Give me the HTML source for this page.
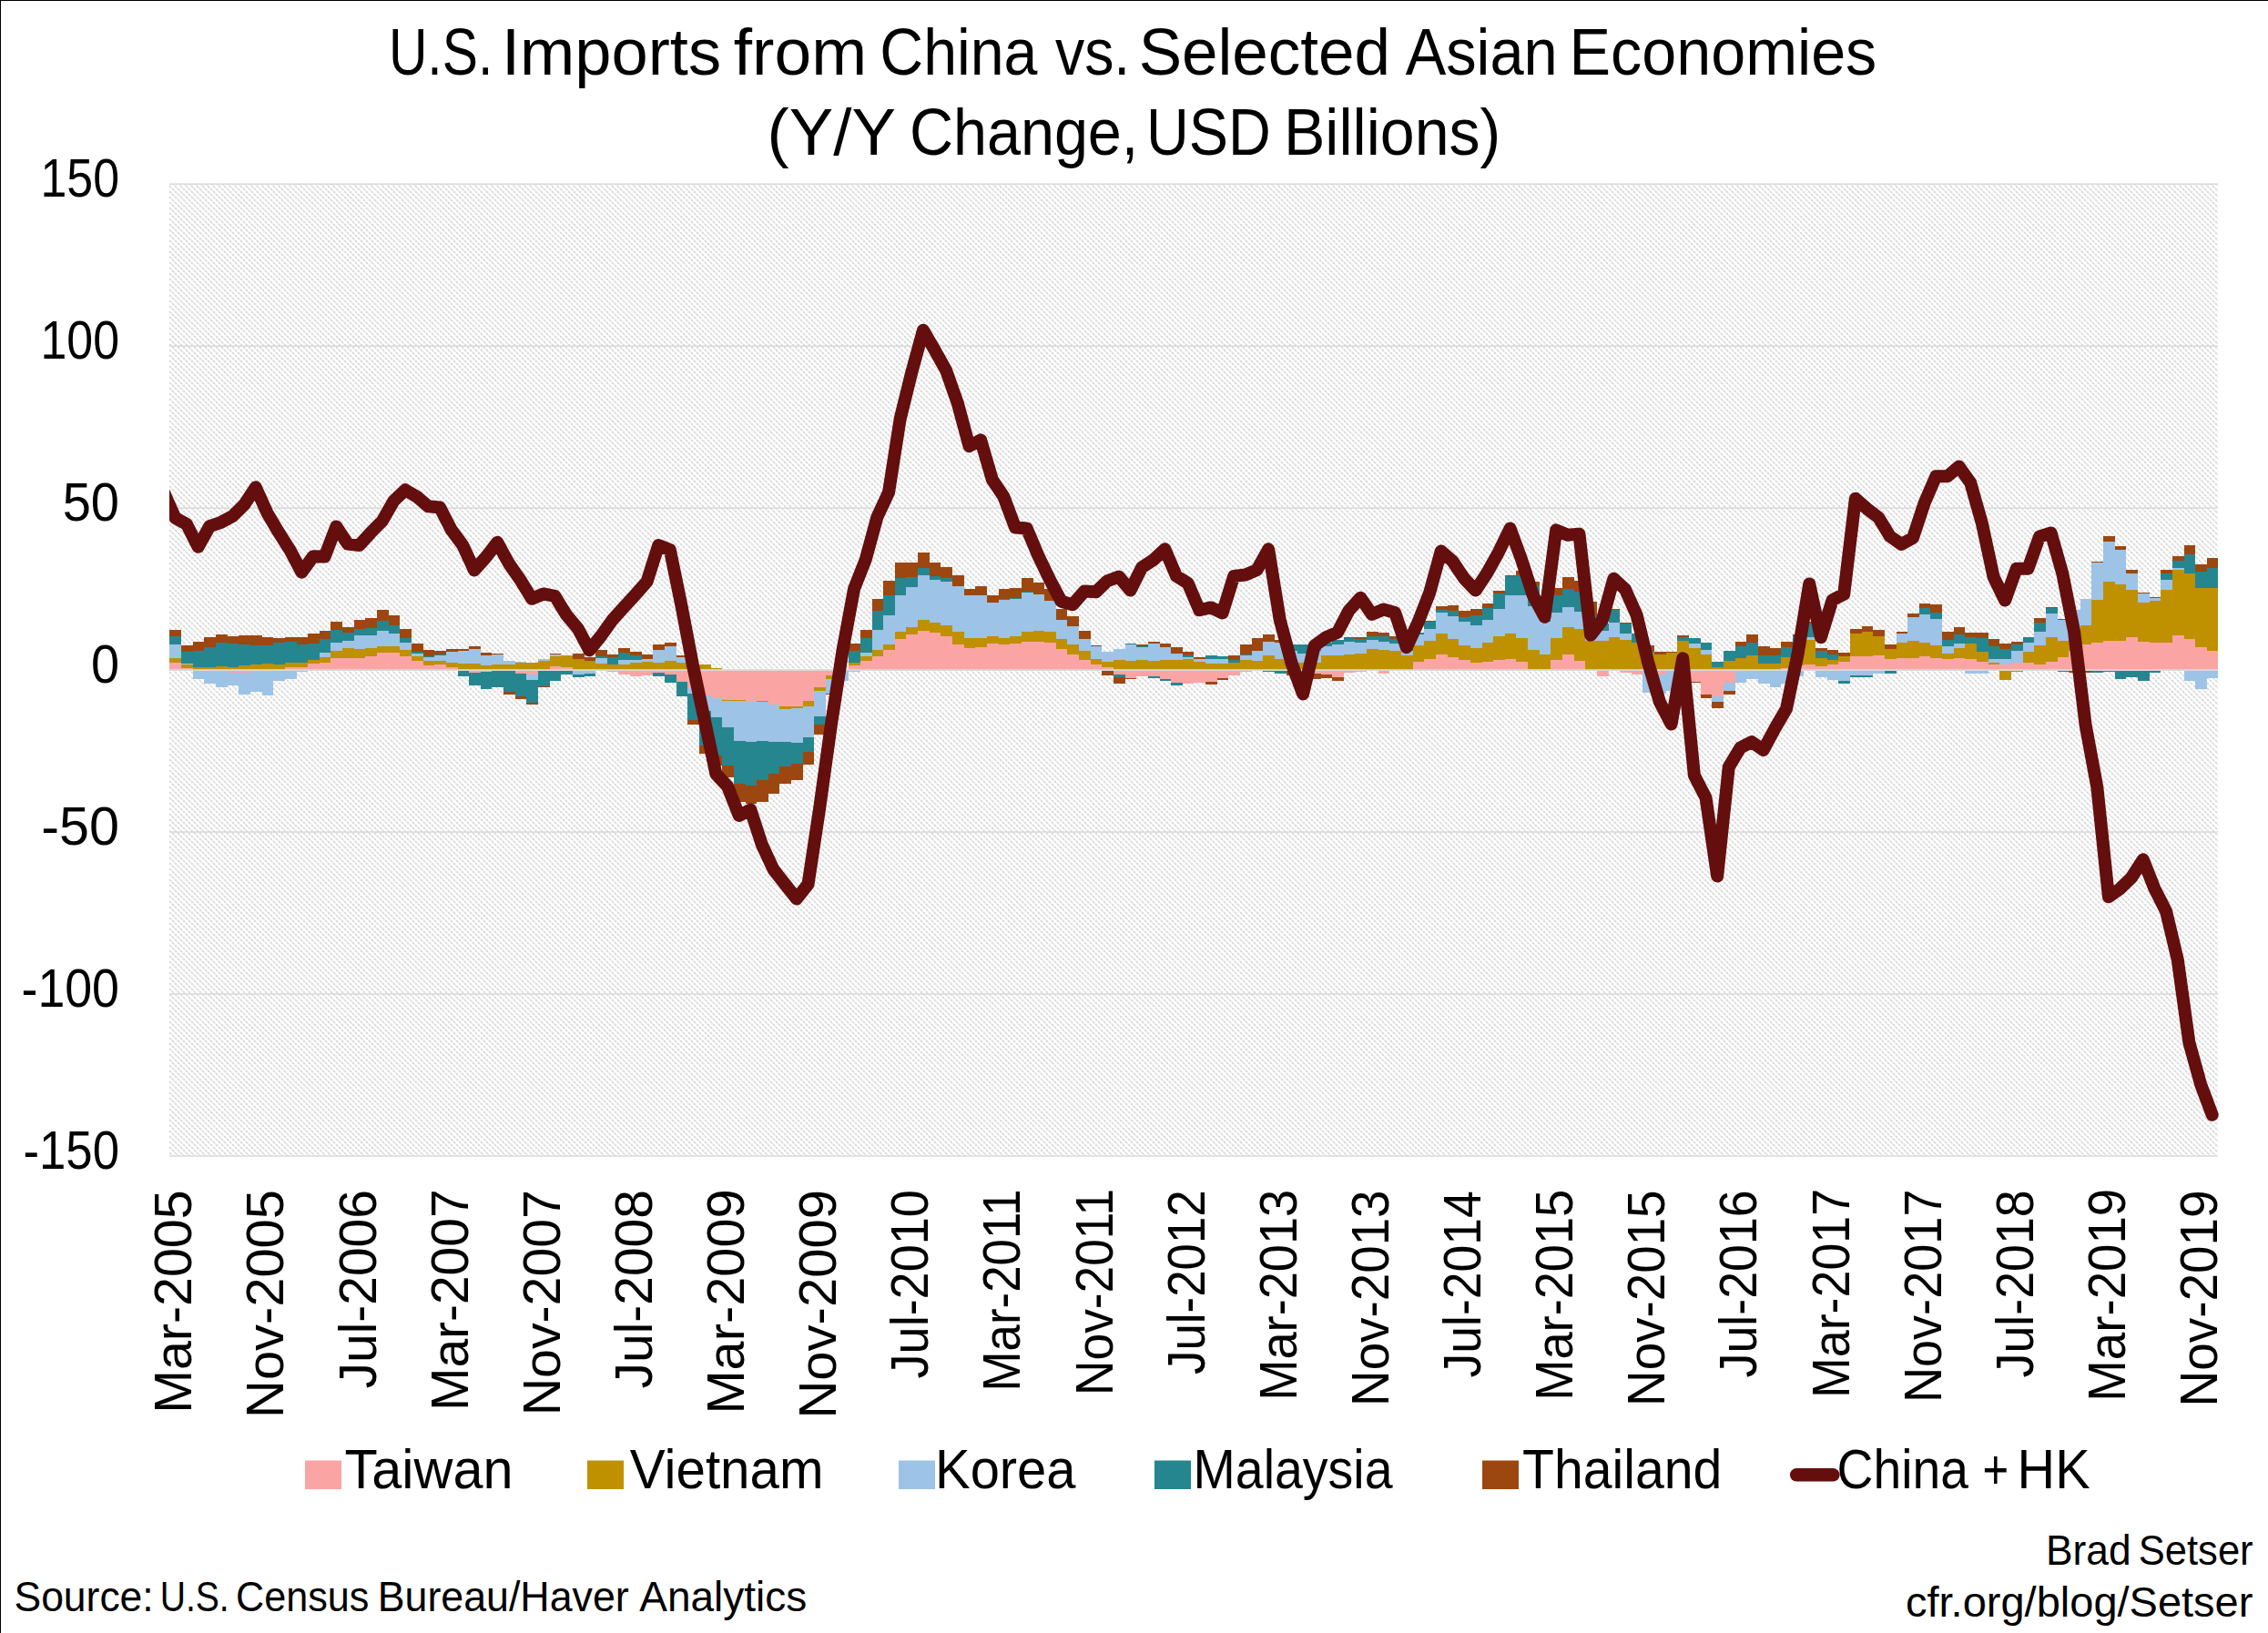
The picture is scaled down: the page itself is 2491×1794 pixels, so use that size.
<!DOCTYPE html>
<html><head><meta charset="utf-8"><title>U.S. Imports from China vs. Selected Asian Economies</title>
<style>
html,body{margin:0;padding:0;background:#fff;overflow:hidden;}
svg{display:block;}
text{font-family:"Liberation Sans", sans-serif;fill:#000;}
</style></head><body>
<svg width="2491" height="1794" viewBox="0 0 2491 1794">
<defs>
<pattern id="hatch" patternUnits="userSpaceOnUse" width="6" height="6">
<path d="M-1,-1 L7,7 M-1,5 L1,7 M5,-1 L7,1" stroke="#e0e0e0" stroke-width="1.1"/><rect x="0.25" y="0.25" width="1.5" height="1.5" fill="#d0d0d0"/><rect x="3.25" y="3.25" width="1.5" height="1.5" fill="#d0d0d0"/>
</pattern>
<clipPath id="plotclip"><rect x="186.0" y="0" width="2305.0" height="1794"/></clipPath>
</defs>
<rect x="0" y="0" width="2491" height="1794" fill="#fff"/>

<rect x="186.0" y="202.2" width="2250.0" height="1067.8" fill="url(#hatch)"/>
<rect x="186.0" y="201.45" width="2250.0" height="1.5" fill="#d9d9d9"/>
<rect x="186.0" y="379.42" width="2250.0" height="1.5" fill="#d9d9d9"/>
<rect x="186.0" y="557.38" width="2250.0" height="1.5" fill="#d9d9d9"/>
<rect x="186.0" y="913.32" width="2250.0" height="1.5" fill="#d9d9d9"/>
<rect x="186.0" y="1091.28" width="2250.0" height="1.5" fill="#d9d9d9"/>
<rect x="186.0" y="1269.25" width="2250.0" height="1.5" fill="#d9d9d9"/>
<path fill="#faa5a4" shape-rendering="crispEdges" d="M186,728H199V736H186ZM199,734H212V736H199ZM224,736H237V738H224ZM237,736H250V738H237ZM250,736H262V739H250ZM262,736H275V739H262ZM275,736H288V738H275ZM288,736H300V738H288ZM313,733H326V736H313ZM326,733H338V736H326ZM338,729H351V736H338ZM351,728H363V736H351ZM363,723H376V736H363ZM376,723H389V736H376ZM389,723H401V736H389ZM401,721H414V736H401ZM414,717H427V736H414ZM427,717H439V736H427ZM439,721H452V736H439ZM452,726H465V736H452ZM465,731H477V736H465ZM477,730H490V736H477ZM490,733H503V736H490ZM515,736H528V739H515ZM528,736H540V738H528ZM540,736H553V737H540ZM566,736H578V740H566ZM578,736H591V741H578ZM604,732H616V736H604ZM616,733H629V736H616ZM667,736H679V738H667ZM679,736H692V741H679ZM692,736H705V743H692ZM705,736H717V742H705ZM717,736H730V739H717ZM730,736H743V741H730ZM743,736H755V749H743ZM755,736H768V756H755ZM768,736H781V764H768ZM781,736H793V767H781ZM793,736H806V769H793ZM806,736H819V769H806ZM819,736H831V770H819ZM831,736H844V770H831ZM844,736H856V774H844ZM856,736H869V776H856ZM869,736H882V776H869ZM882,736H894V770H882ZM894,736H907V755H894ZM907,736H920V742H907ZM932,731H945V736H932ZM945,726H958V736H945ZM958,721H970V736H958ZM970,714H983V736H970ZM983,702H995V736H983ZM995,697H1008V736H995ZM1008,693H1021V736H1008ZM1021,695H1033V736H1021ZM1033,699H1046V736H1033ZM1046,708H1059V736H1046ZM1059,712H1071V736H1059ZM1071,711H1084V736H1071ZM1084,707H1097V736H1084ZM1097,708H1109V736H1097ZM1109,707H1122V736H1109ZM1122,705H1135V736H1122ZM1135,705H1147V736H1135ZM1147,706H1160V736H1147ZM1160,713H1172V736H1160ZM1172,719H1185V736H1172ZM1185,725H1198V736H1185ZM1198,730H1210V736H1198ZM1210,733H1223V736H1210ZM1223,736H1236V741H1223ZM1236,736H1248V745H1236ZM1248,736H1261V743H1248ZM1261,736H1274V743H1261ZM1274,736H1286V746H1274ZM1286,736H1299V750H1286ZM1299,736H1311V751H1299ZM1311,736H1324V750H1311ZM1324,736H1337V749H1324ZM1337,736H1349V745H1337ZM1349,736H1362V742H1349ZM1362,736H1375V738H1362ZM1387,736H1400V737H1387ZM1425,736H1438V738H1425ZM1438,736H1451V740H1438ZM1451,736H1463V741H1451ZM1463,736H1476V744H1463ZM1476,736H1488V739H1476ZM1488,736H1501V738H1488ZM1514,736H1526V740H1514ZM1552,727H1564V736H1552ZM1564,724H1577V736H1564ZM1577,719H1590V736H1577ZM1590,722H1602V736H1590ZM1602,725H1615V736H1602ZM1615,728H1628V736H1615ZM1628,727H1640V736H1628ZM1640,725H1653V736H1640ZM1653,724H1665V736H1653ZM1665,727H1678V736H1665ZM1678,735H1691V736H1678ZM1691,735H1703V736H1691ZM1703,725H1716V736H1703ZM1716,719H1729V736H1716ZM1729,726H1741V736H1729ZM1754,736H1767V743H1754ZM1779,736H1792V739H1779ZM1792,736H1804V741H1792ZM1817,736H1830V741H1817ZM1842,736H1855V749H1842ZM1855,736H1868V749H1855ZM1868,736H1880V763H1868ZM1880,736H1893V765H1880ZM1893,736H1906V750H1893ZM1906,736H1918V738H1906ZM1956,734H1969V736H1956ZM1969,731H1981V736H1969ZM1981,730H1994V736H1981ZM1994,732H2007V736H1994ZM2007,730H2019V736H2007ZM2019,727H2032V736H2019ZM2032,721H2045V736H2032ZM2045,721H2057V736H2045ZM2057,720H2070V736H2057ZM2070,724H2083V736H2070ZM2083,723H2095V736H2083ZM2095,723H2108V736H2095ZM2108,721H2120V736H2108ZM2120,723H2133V736H2120ZM2133,724H2146V736H2133ZM2146,723H2158V736H2146ZM2158,724H2171V736H2158ZM2171,727H2184V736H2171ZM2184,730H2196V736H2184ZM2196,730H2209V736H2196ZM2209,728H2222V736H2209ZM2222,728H2234V736H2222ZM2234,730H2247V736H2234ZM2247,727H2260V736H2247ZM2260,722H2272V736H2260ZM2272,715H2285V736H2272ZM2285,708H2297V736H2285ZM2297,706H2310V736H2297ZM2310,704H2323V736H2310ZM2323,704H2335V736H2323ZM2335,700H2348V736H2335ZM2348,705H2361V736H2348ZM2361,706H2373V736H2361ZM2373,706H2386V736H2373ZM2386,698H2399V736H2386ZM2399,702H2411V736H2399ZM2411,711H2424V736H2411ZM2424,715H2436V736H2424Z"/>
<path fill="#bf9000" shape-rendering="crispEdges" d="M186,723H199V728H186ZM199,730H212V734H199ZM212,733H224V736H212ZM224,733H237V736H224ZM237,732H250V736H237ZM250,733H262V736H250ZM262,731H275V736H262ZM275,730H288V736H275ZM288,729H300V736H288ZM300,730H313V736H300ZM313,728H326V733H313ZM326,728H338V733H326ZM338,725H351V729H338ZM351,722H363V728H351ZM363,715H376V723H363ZM376,712H389V723H376ZM389,713H401V723H389ZM401,712H414V721H401ZM414,710H427V717H414ZM427,710H439V717H427ZM439,714H452V721H439ZM452,721H465V726H452ZM465,726H477V731H465ZM477,726H490V730H477ZM490,728H503V733H490ZM503,729H515V736H503ZM515,729H528V736H515ZM528,731H540V736H528ZM540,730H553V736H540ZM553,730H566V736H553ZM566,728H578V736H566ZM578,728H591V736H578ZM591,726H604V736H591ZM604,721H616V732H604ZM616,720H629V733H616ZM629,724H642V736H629ZM642,726H654V736H642ZM654,729H667V736H654ZM667,730H679V736H667ZM679,730H692V736H679ZM692,728H705V736H692ZM705,727H717V736H705ZM717,728H730V736H717ZM730,726H743V736H730ZM743,728H755V736H743ZM755,731H768V736H755ZM768,730H781V736H768ZM781,734H793V736H781ZM793,769H806V770H793ZM806,769H819V770H806ZM831,770H844V771H831ZM856,776H869V779H856ZM869,776H882V778H869ZM882,770H894V776H882ZM894,755H907V759H894ZM907,742H920V746H907ZM932,728H945V731H932ZM945,721H958V726H945ZM958,714H970V721H958ZM970,708H983V714H970ZM983,694H995V702H983ZM995,689H1008V697H995ZM1008,681H1021V693H1008ZM1021,684H1033V695H1021ZM1033,687H1046V699H1033ZM1046,694H1059V708H1046ZM1059,701H1071V712H1059ZM1071,701H1084V711H1071ZM1084,699H1097V707H1084ZM1097,701H1109V708H1097ZM1109,699H1122V707H1109ZM1122,694H1135V705H1122ZM1135,693H1147V705H1135ZM1147,694H1160V706H1147ZM1160,702H1172V713H1160ZM1172,708H1185V719H1172ZM1185,715H1198V725H1185ZM1198,724H1210V730H1198ZM1210,727H1223V733H1210ZM1223,725H1236V736H1223ZM1236,726H1248V736H1236ZM1248,725H1261V736H1248ZM1261,726H1274V736H1261ZM1274,725H1286V736H1274ZM1286,725H1299V736H1286ZM1299,724H1311V736H1299ZM1311,727H1324V736H1311ZM1324,729H1337V736H1324ZM1337,729H1349V736H1337ZM1349,728H1362V736H1349ZM1362,725H1375V736H1362ZM1375,726H1387V736H1375ZM1387,720H1400V736H1387ZM1400,724H1413V736H1400ZM1413,724H1425V736H1413ZM1425,728H1438V736H1425ZM1438,728H1451V736H1438ZM1451,720H1463V736H1451ZM1463,720H1476V736H1463ZM1476,719H1488V736H1476ZM1488,718H1501V736H1488ZM1501,713H1514V736H1501ZM1514,714H1526V736H1514ZM1526,715H1539V736H1526ZM1539,720H1552V736H1539ZM1552,709H1564V727H1552ZM1564,704H1577V724H1564ZM1577,696H1590V719H1577ZM1590,702H1602V722H1590ZM1602,709H1615V725H1602ZM1615,712H1628V728H1615ZM1628,706H1640V727H1628ZM1640,699H1653V725H1640ZM1653,696H1665V724H1653ZM1665,701H1678V727H1665ZM1678,714H1691V735H1678ZM1691,719H1703V735H1691ZM1703,701H1716V725H1703ZM1716,689H1729V719H1716ZM1729,691H1741V726H1729ZM1741,704H1754V736H1741ZM1754,704H1767V736H1754ZM1767,700H1779V736H1767ZM1779,703H1792V736H1779ZM1792,706H1804V736H1792ZM1804,717H1817V736H1804ZM1817,719H1830V736H1817ZM1830,717H1842V736H1830ZM1842,704H1855V736H1842ZM1855,712H1868V736H1855ZM1868,719H1880V736H1868ZM1880,733H1893V736H1880ZM1893,726H1906V736H1893ZM1906,723H1918V736H1906ZM1918,720H1931V736H1918ZM1931,729H1944V736H1931ZM1944,729H1956V736H1944ZM1956,722H1969V734H1956ZM1969,709H1981V731H1969ZM1981,703H1994V730H1981ZM1994,723H2007V732H1994ZM2007,725H2019V730H2007ZM2019,721H2032V727H2019ZM2032,696H2045V721H2032ZM2045,694H2057V721H2045ZM2057,699H2070V720H2057ZM2070,713H2083V724H2070ZM2083,706H2095V723H2083ZM2095,704H2108V723H2095ZM2108,706H2120V721H2108ZM2120,709H2133V723H2120ZM2133,718H2146V724H2133ZM2146,712H2158V723H2146ZM2158,707H2171V724H2158ZM2171,716H2184V727H2171ZM2184,728H2196V730H2184ZM2196,736H2209V747H2196ZM2209,736H2222V738H2209ZM2222,716H2234V728H2222ZM2234,709H2247V730H2234ZM2247,700H2260V727H2247ZM2260,704H2272V722H2260ZM2272,695H2285V715H2272ZM2285,687H2297V708H2285ZM2297,659H2310V706H2297ZM2310,639H2323V704H2310ZM2323,642H2335V704H2323ZM2335,648H2348V700H2335ZM2348,662H2361V705H2348ZM2361,660H2373V706H2361ZM2373,648H2386V706H2373ZM2386,626H2399V698H2386ZM2399,630H2411V702H2399ZM2411,646H2424V711H2411ZM2424,646H2436V715H2424Z"/>
<path fill="#9dc3e6" shape-rendering="crispEdges" d="M186,708H199V723H186ZM199,729H212V730H199ZM212,736H224V746H212ZM224,738H237V751H224ZM237,738H250V755H237ZM250,739H262V753H250ZM262,739H275V763H262ZM275,738H288V760H275ZM288,738H300V764H288ZM300,736H313V748H300ZM313,736H326V746H313ZM326,736H338V738H326ZM351,717H363V722H351ZM363,706H376V715H363ZM376,704H389V712H376ZM389,698H401V713H389ZM401,698H414V712H401ZM414,693H427V710H414ZM427,696H439V710H427ZM439,706H452V714H439ZM452,718H465V721H452ZM465,722H477V726H465ZM477,720H490V726H477ZM490,716H503V728H490ZM503,715H515V729H503ZM515,713H528V729H515ZM528,720H540V731H528ZM540,719H553V730H540ZM553,726H566V730H553ZM566,727H578V728H566ZM578,741H591V747H578ZM591,724H604V726H591ZM604,719H616V721H604ZM629,736H642V741H629ZM642,736H654V740H642ZM654,723H667V729H654ZM679,725H692V730H679ZM692,725H705V728H692ZM705,724H717V727H705ZM717,714H730V728H717ZM730,710H743V726H730ZM743,722H755V728H743ZM755,756H768V762H755ZM768,764H781V781H768ZM781,767H793V788H781ZM793,770H806V799H793ZM806,770H819V814H806ZM819,770H831V815H819ZM831,771H844V814H831ZM844,774H856V815H844ZM856,779H869V815H856ZM869,778H882V816H869ZM882,776H894V810H882ZM894,759H907V787H894ZM907,746H920V762H907ZM920,736H932V748H920ZM932,736H945V738H932ZM945,717H958V721H945ZM958,692H970V714H958ZM970,676H983V708H970ZM983,654H995V694H983ZM995,645H1008V689H995ZM1008,632H1021V681H1008ZM1021,637H1033V684H1021ZM1033,639H1046V687H1033ZM1046,644H1059V694H1046ZM1059,654H1071V701H1059ZM1071,654H1084V701H1071ZM1084,662H1097V699H1084ZM1097,659H1109V701H1097ZM1109,658H1122V699H1109ZM1122,651H1135V694H1122ZM1135,653H1147V693H1135ZM1147,660H1160V694H1147ZM1160,681H1172V702H1160ZM1172,688H1185V708H1172ZM1185,702H1198V715H1185ZM1198,710H1210V724H1198ZM1210,716H1223V727H1210ZM1223,713H1236V725H1223ZM1236,708H1248V726H1236ZM1248,711H1261V725H1248ZM1261,707H1274V726H1261ZM1274,711H1286V725H1274ZM1286,718H1299V725H1286ZM1299,722H1311V724H1299ZM1311,724H1324V727H1311ZM1324,724H1337V729H1324ZM1337,724H1349V729H1337ZM1362,720H1375V725H1362ZM1375,715H1387V726H1375ZM1387,705H1400V720H1387ZM1400,706H1413V724H1400ZM1413,715H1425V724H1413ZM1425,718H1438V728H1425ZM1438,715H1451V728H1438ZM1451,710H1463V720H1451ZM1463,708H1476V720H1463ZM1476,705H1488V719H1476ZM1488,706H1501V718H1488ZM1501,703H1514V713H1501ZM1514,705H1526V714H1514ZM1526,707H1539V715H1526ZM1539,715H1552V720H1539ZM1552,697H1564V709H1552ZM1564,691H1577V704H1564ZM1577,673H1590V696H1577ZM1590,677H1602V702H1590ZM1602,683H1615V709H1602ZM1615,687H1628V712H1615ZM1628,681H1640V706H1628ZM1640,669H1653V699H1640ZM1653,654H1665V696H1653ZM1665,654H1678V701H1665ZM1678,666H1691V714H1678ZM1691,683H1703V719H1691ZM1703,673H1716V701H1703ZM1716,667H1729V689H1716ZM1729,672H1741V691H1729ZM1741,689H1754V704H1741ZM1754,693H1767V704H1754ZM1767,684H1779V700H1767ZM1779,696H1792V703H1779ZM1804,736H1817V761H1804ZM1817,741H1830V762H1817ZM1830,736H1842V759H1830ZM1855,707H1868V712H1855ZM1868,714H1880V719H1868ZM1880,765H1893V771H1880ZM1893,750H1906V759H1893ZM1906,738H1918V750H1906ZM1918,736H1931V746H1918ZM1931,736H1944V751H1931ZM1944,736H1956V755H1944ZM1956,736H1969V751H1956ZM1969,736H1981V743H1969ZM1981,700H1994V703H1981ZM1994,736H2007V744H1994ZM2007,736H2019V747H2007ZM2019,736H2032V748H2019ZM2032,736H2045V742H2032ZM2045,736H2057V742H2045ZM2057,736H2070V740H2057ZM2083,696H2095V706H2083ZM2095,678H2108V704H2095ZM2108,675H2120V706H2108ZM2120,680H2133V709H2120ZM2133,710H2146V718H2133ZM2146,707H2158V712H2146ZM2158,736H2171V740H2158ZM2171,736H2184V740H2171ZM2184,724H2196V728H2184ZM2196,724H2209V730H2196ZM2209,715H2222V728H2209ZM2222,706H2234V716H2222ZM2234,694H2247V709H2234ZM2247,674H2260V700H2247ZM2260,681H2272V704H2260ZM2272,670H2285V695H2272ZM2285,658H2297V687H2285ZM2297,618H2310V659H2297ZM2310,595H2323V639H2310ZM2323,604H2335V642H2323ZM2335,630H2348V648H2335ZM2348,652H2361V662H2348ZM2361,657H2373V660H2361ZM2373,637H2386V648H2373ZM2386,624H2399V626H2386ZM2399,736H2411V748H2399ZM2411,736H2424V757H2411ZM2424,736H2436V745H2424Z"/>
<path fill="#258690" shape-rendering="crispEdges" d="M186,699H199V708H186ZM199,716H212V729H199ZM212,715H224V733H212ZM224,711H237V733H224ZM237,706H250V732H237ZM250,707H262V733H250ZM262,708H275V731H262ZM275,709H288V730H275ZM288,709H300V729H288ZM300,706H313V730H300ZM313,705H326V728H313ZM326,708H338V728H326ZM338,707H351V725H338ZM351,702H363V717H351ZM363,692H376V706H363ZM376,695H389V704H376ZM389,691H401V698H389ZM401,690H414V698H401ZM414,682H427V693H414ZM427,687H439V696H427ZM439,701H452V706H439ZM452,716H465V718H452ZM465,721H477V722H465ZM477,719H490V720H477ZM503,736H515V743H503ZM515,739H528V753H515ZM528,738H540V757H528ZM540,737H553V755H540ZM553,736H566V760H553ZM566,740H578V765H566ZM578,747H591V772H578ZM591,736H604V754H591ZM604,736H616V748H604ZM616,736H629V741H616ZM629,741H642V744H629ZM642,740H654V743H642ZM654,721H667V723H654ZM667,722H679V730H667ZM679,717H692V725H679ZM692,720H705V725H692ZM717,739H730V743H717ZM730,741H743V750H730ZM743,749H755V765H743ZM755,762H768V791H755ZM768,781H781V819H768ZM781,788H793V830H781ZM793,799H806V841H793ZM806,814H819V861H806ZM819,815H831V863H819ZM831,814H844V857H831ZM844,815H856V850H844ZM856,815H869V842H856ZM869,816H882V839H869ZM882,810H894V826H882ZM894,787H907V796H894ZM932,715H945V728H932ZM945,701H958V717H945ZM958,671H970V692H958ZM970,654H983V676H970ZM983,635H995V654H983ZM995,634H1008V645H995ZM1008,624H1021V632H1008ZM1021,633H1033V637H1021ZM1033,635H1046V639H1033ZM1097,658H1109V659H1097ZM1109,657H1122V658H1109ZM1122,650H1135V651H1122ZM1172,736H1185V737H1172ZM1223,741H1236V744H1223ZM1236,707H1248V708H1236ZM1248,710H1261V711H1248ZM1261,743H1274V745H1261ZM1274,746H1286V748H1274ZM1286,750H1299V753H1286ZM1299,720H1311V722H1299ZM1324,720H1337V724H1324ZM1337,721H1349V724H1337ZM1349,725H1362V728H1349ZM1362,719H1375V720H1362ZM1387,737H1400V738H1387ZM1400,736H1413V740H1400ZM1413,708H1425V715H1413ZM1425,708H1438V718H1425ZM1438,708H1451V715H1438ZM1451,706H1463V710H1451ZM1463,703H1476V708H1463ZM1476,701H1488V705H1476ZM1488,702H1501V706H1488ZM1501,699H1514V703H1501ZM1514,699H1526V705H1514ZM1526,702H1539V707H1526ZM1539,711H1552V715H1539ZM1552,695H1564V697H1552ZM1564,683H1577V691H1564ZM1577,670H1590V673H1577ZM1590,671H1602V677H1590ZM1602,678H1615V683H1602ZM1615,676H1628V687H1615ZM1628,668H1640V681H1628ZM1640,652H1653V669H1640ZM1653,633H1665V654H1653ZM1665,632H1678V654H1665ZM1678,643H1691V666H1678ZM1691,681H1703V683H1691ZM1703,654H1716V673H1703ZM1716,647H1729V667H1716ZM1729,650H1741V672H1729ZM1741,676H1754V689H1741ZM1754,685H1767V693H1754ZM1767,670H1779V684H1767ZM1779,685H1792V696H1779ZM1792,696H1804V706H1792ZM1804,715H1817V717H1804ZM1842,700H1855V704H1842ZM1855,701H1868V707H1855ZM1868,706H1880V714H1868ZM1880,727H1893V733H1880ZM1893,715H1906V726H1893ZM1906,710H1918V723H1906ZM1918,706H1931V720H1918ZM1931,720H1944V729H1931ZM1944,720H1956V729H1944ZM1956,711H1969V722H1956ZM1969,699H1981V709H1969ZM1981,685H1994V700H1981ZM1994,715H2007V723H1994ZM2007,719H2019V725H2007ZM2019,748H2032V751H2019ZM2032,742H2045V744H2032ZM2045,742H2057V744H2045ZM2070,736H2083V740H2070ZM2108,668H2120V675H2108ZM2120,673H2133V680H2120ZM2133,703H2146V710H2133ZM2146,697H2158V707H2146ZM2158,700H2171V707H2158ZM2171,701H2184V716H2171ZM2184,710H2196V724H2184ZM2196,713H2209V724H2196ZM2209,708H2222V715H2209ZM2222,700H2234V706H2222ZM2234,684H2247V694H2234ZM2247,668H2260V674H2247ZM2260,736H2272V738H2260ZM2297,736H2310V739H2297ZM2310,736H2323V738H2310ZM2323,736H2335V746H2323ZM2335,736H2348V744H2335ZM2348,736H2361V748H2348ZM2361,736H2373V739H2361ZM2373,630H2386V637H2373ZM2386,616H2399V624H2386ZM2399,609H2411V630H2399ZM2411,628H2424V646H2411ZM2424,624H2436V646H2424Z"/>
<path fill="#9c4710" shape-rendering="crispEdges" d="M186,692H199V699H186ZM199,709H212V716H199ZM212,705H224V715H212ZM224,700H237V711H224ZM237,697H250V706H237ZM250,699H262V707H250ZM262,698H275V708H262ZM275,698H288V709H275ZM288,700H300V709H288ZM300,701H313V706H300ZM313,700H326V705H313ZM326,700H338V708H326ZM338,696H351V707H338ZM351,693H363V702H351ZM363,683H376V692H363ZM376,689H389V695H376ZM389,681H401V691H389ZM401,679H414V690H401ZM414,670H427V682H414ZM427,676H439V687H427ZM439,691H452V701H439ZM452,707H465V716H452ZM465,714H477V721H465ZM477,715H490V719H477ZM490,713H503V716H490ZM503,713H515V715H503ZM515,710H528V713H515ZM528,717H540V720H528ZM540,718H553V719H540ZM553,760H566V763H553ZM566,765H578V768H566ZM578,772H591V774H578ZM591,754H604V755H591ZM604,718H616V719H604ZM629,718H642V724H629ZM642,722H654V726H642ZM654,714H667V721H654ZM667,719H679V722H667ZM679,712H692V717H679ZM692,716H705V720H692ZM705,719H717V724H705ZM717,708H730V714H717ZM730,706H743V710H730ZM743,720H755V722H743ZM755,791H768V796H755ZM768,819H781V828H768ZM781,830H793V841H781ZM793,841H806V854H793ZM806,861H819V881H806ZM819,863H831V883H819ZM831,857H844V881H831ZM844,850H856V872H844ZM856,842H869V861H856ZM869,839H882V857H869ZM882,826H894V840H882ZM894,796H907V807H894ZM907,762H920V763H907ZM932,707H945V715H932ZM945,692H958V701H945ZM958,658H970V671H958ZM970,638H983V654H970ZM983,618H995V635H983ZM995,618H1008V634H995ZM1008,607H1021V624H1008ZM1021,618H1033V633H1021ZM1033,623H1046V635H1033ZM1046,632H1059V644H1046ZM1059,647H1071V654H1059ZM1071,644H1084V654H1071ZM1084,654H1097V662H1084ZM1097,647H1109V658H1097ZM1109,646H1122V657H1109ZM1122,635H1135V650H1122ZM1135,640H1147V653H1135ZM1147,647H1160V660H1147ZM1160,669H1172V681H1160ZM1172,677H1185V688H1172ZM1185,693H1198V702H1185ZM1198,709H1210V710H1198ZM1210,736H1223V742H1210ZM1223,744H1236V751H1223ZM1236,745H1248V746H1236ZM1248,708H1261V710H1248ZM1261,705H1274V707H1261ZM1274,707H1286V711H1274ZM1286,711H1299V718H1286ZM1299,716H1311V720H1299ZM1311,722H1324V724H1311ZM1324,749H1337V752H1324ZM1337,745H1349V747H1337ZM1349,720H1362V725H1349ZM1362,708H1375V719H1362ZM1375,701H1387V715H1375ZM1387,697H1400V705H1387ZM1400,703H1413V706H1400ZM1413,736H1425V742H1413ZM1438,740H1451V746H1438ZM1451,741H1463V745H1451ZM1463,744H1476V748H1463ZM1476,700H1488V701H1476ZM1488,700H1501V702H1488ZM1501,694H1514V699H1501ZM1514,695H1526V699H1514ZM1526,699H1539V702H1526ZM1564,682H1577V683H1564ZM1577,666H1590V670H1577ZM1590,665H1602V671H1590ZM1602,671H1615V678H1602ZM1615,669H1628V676H1615ZM1628,663H1640V668H1628ZM1640,649H1653V652H1640ZM1653,632H1665V633H1653ZM1665,627H1678V632H1665ZM1678,639H1691V643H1678ZM1703,646H1716V654H1703ZM1716,634H1729V647H1716ZM1729,638H1741V650H1729ZM1741,661H1754V676H1741ZM1767,669H1779V670H1767ZM1779,684H1792V685H1779ZM1804,709H1817V715H1804ZM1817,716H1830V719H1817ZM1830,716H1842V717H1830ZM1842,698H1855V700H1842ZM1855,749H1868V750H1855ZM1868,763H1880V767H1868ZM1880,771H1893V778H1880ZM1893,759H1906V763H1893ZM1906,705H1918V710H1906ZM1918,697H1931V706H1918ZM1931,710H1944V720H1931ZM1944,712H1956V720H1944ZM1956,705H1969V711H1956ZM1969,697H1981V699H1969ZM1981,683H1994V685H1981ZM1994,712H2007V715H1994ZM2007,714H2019V719H2007ZM2019,717H2032V721H2019ZM2032,691H2045V696H2032ZM2045,688H2057V694H2045ZM2057,692H2070V699H2057ZM2070,708H2083V713H2070ZM2083,694H2095V696H2083ZM2095,674H2108V678H2095ZM2108,663H2120V668H2108ZM2120,664H2133V673H2120ZM2133,694H2146V703H2133ZM2146,689H2158V697H2146ZM2158,695H2171V700H2158ZM2171,695H2184V701H2171ZM2184,702H2196V710H2184ZM2196,707H2209V713H2196ZM2209,705H2222V708H2209ZM2234,679H2247V684H2234ZM2247,667H2260V668H2247ZM2260,680H2272V681H2260ZM2272,736H2285V739H2272ZM2285,736H2297V739H2285ZM2297,617H2310V618H2297ZM2310,589H2323V595H2310ZM2323,600H2335V604H2323ZM2335,626H2348V630H2335ZM2348,651H2361V652H2348ZM2361,656H2373V657H2361ZM2373,626H2386V630H2373ZM2386,611H2399V616H2386ZM2399,599H2411V609H2399ZM2411,620H2424V628H2411ZM2424,613H2436V624H2424Z"/>
<rect x="186.0" y="735.20" width="2250.0" height="1.8" fill="#d9d9d9"/>
<polyline clip-path="url(#plotclip)" points="179.68,540.34 192.32,568.81 204.96,575.93 217.60,600.85 230.24,578.07 242.88,573.79 255.52,567.03 268.16,554.57 280.80,535.35 293.44,563.47 306.08,584.83 318.72,604.76 331.37,628.61 344.01,611.17 356.65,611.52 369.29,578.42 381.93,597.64 394.57,599.07 407.21,585.18 419.85,572.37 432.49,550.30 445.13,538.20 457.77,545.68 470.41,556.35 483.05,557.42 495.69,581.98 508.33,599.07 520.97,626.47 533.61,612.24 546.25,595.86 558.89,619.00 571.53,637.15 584.17,657.79 596.81,652.46 609.46,654.95 622.10,675.59 634.74,690.54 647.38,714.39 660.02,698.73 672.66,680.93 685.30,667.05 697.94,653.17 710.58,638.93 723.22,599.07 735.86,604.05 748.50,665.63 761.14,731.83 773.78,790.91 786.42,850.35 799.06,863.88 811.70,895.91 824.34,889.51 836.98,928.30 849.62,955.35 862.26,971.37 874.90,987.39 887.54,971.37 900.19,887.73 912.83,796.61 925.47,714.74 938.11,646.76 950.75,614.73 963.39,568.10 976.03,541.05 988.67,460.25 1001.31,409.00 1013.95,362.73 1026.59,384.44 1039.23,407.22 1051.87,443.17 1064.51,490.15 1077.15,483.39 1089.79,526.81 1102.43,545.68 1115.07,579.49 1127.71,580.56 1140.35,610.46 1152.99,636.79 1165.63,660.64 1178.28,664.20 1190.92,649.61 1203.56,650.32 1216.20,638.22 1228.84,633.59 1241.48,648.54 1254.12,623.27 1266.76,615.08 1279.40,603.34 1292.04,632.88 1304.68,640.71 1317.32,670.25 1329.96,667.40 1342.60,673.46 1355.24,632.88 1367.88,631.46 1380.52,626.12 1393.16,603.34 1405.80,681.29 1418.44,728.27 1431.08,762.44 1443.72,709.40 1456.37,700.15 1469.01,694.81 1481.65,670.61 1494.29,656.73 1506.93,674.88 1519.57,669.54 1532.21,673.10 1544.85,711.18 1557.49,683.78 1570.13,651.39 1582.77,605.47 1595.41,616.51 1608.05,635.37 1620.69,648.54 1633.33,629.32 1645.97,606.54 1658.61,580.56 1671.25,615.08 1683.89,654.24 1696.53,677.73 1709.17,582.34 1721.81,587.68 1734.46,586.61 1747.10,697.66 1759.74,681.29 1772.38,635.73 1785.02,647.47 1797.66,675.95 1810.30,728.27 1822.94,771.34 1835.58,795.54 1848.22,723.29 1860.86,851.78 1873.50,876.34 1886.14,962.47 1898.78,842.52 1911.42,821.52 1924.06,815.12 1936.70,824.02 1949.34,800.52 1961.98,778.81 1974.62,718.30 1987.26,641.42 1999.90,700.15 2012.54,659.22 2025.19,652.81 2037.83,547.81 2050.47,558.85 2063.11,568.46 2075.75,589.10 2088.39,598.00 2101.03,590.88 2113.67,552.44 2126.31,523.25 2138.95,523.25 2151.59,512.57 2164.23,530.37 2176.87,574.86 2189.51,633.59 2202.15,659.57 2214.79,624.69 2227.43,624.69 2240.07,589.46 2252.71,585.54 2265.35,630.39 2277.99,693.39 2290.63,796.61 2303.28,864.59 2315.92,985.25 2328.56,976.36 2341.20,963.90 2353.84,944.32 2366.48,976.36 2379.12,1001.27 2391.76,1054.30 2404.40,1145.42 2417.04,1190.98 2429.68,1224.80" fill="none" stroke="#640e0e" stroke-width="14" stroke-linejoin="round" stroke-linecap="round"/>
<text x="131" y="216.2" font-size="60" text-anchor="end" textLength="86.5" lengthAdjust="spacingAndGlyphs">150</text>
<text x="131" y="394.2" font-size="60" text-anchor="end" textLength="86.5" lengthAdjust="spacingAndGlyphs">100</text>
<text x="131" y="572.1" font-size="60" text-anchor="end" textLength="62.3" lengthAdjust="spacingAndGlyphs">50</text>
<text x="131" y="750.1" font-size="60" text-anchor="end" textLength="31.1" lengthAdjust="spacingAndGlyphs">0</text>
<text x="131" y="928.1" font-size="60" text-anchor="end" textLength="85.7" lengthAdjust="spacingAndGlyphs">-50</text>
<text x="131" y="1106.0" font-size="60" text-anchor="end" textLength="107.5" lengthAdjust="spacingAndGlyphs">-100</text>
<text x="131" y="1284.0" font-size="60" text-anchor="end" textLength="105.6" lengthAdjust="spacingAndGlyphs">-150</text>
<text transform="translate(210.3,1552.8) rotate(-90)" font-size="58" textLength="245.45" lengthAdjust="spacingAndGlyphs">Mar-2005</text>
<text transform="translate(311.4,1557.9) rotate(-90)" font-size="58" textLength="250.87" lengthAdjust="spacingAndGlyphs">Nov-2005</text>
<text transform="translate(412.6,1525.4) rotate(-90)" font-size="58" textLength="218.32" lengthAdjust="spacingAndGlyphs">Jul-2006</text>
<text transform="translate(513.7,1550.0) rotate(-90)" font-size="58" textLength="243.58" lengthAdjust="spacingAndGlyphs">Mar-2007</text>
<text transform="translate(614.8,1555.2) rotate(-90)" font-size="58" textLength="248.08" lengthAdjust="spacingAndGlyphs">Nov-2007</text>
<text transform="translate(715.9,1525.4) rotate(-90)" font-size="58" textLength="218.32" lengthAdjust="spacingAndGlyphs">Jul-2008</text>
<text transform="translate(817.1,1553.5) rotate(-90)" font-size="58" textLength="247.2" lengthAdjust="spacingAndGlyphs">Mar-2009</text>
<text transform="translate(918.2,1558.6) rotate(-90)" font-size="58" textLength="251.59" lengthAdjust="spacingAndGlyphs">Nov-2009</text>
<text transform="translate(1019.3,1514.4) rotate(-90)" font-size="58" textLength="207.14" lengthAdjust="spacingAndGlyphs">Jul-2010</text>
<text transform="translate(1120.4,1528.4) rotate(-90)" font-size="58" textLength="222.13" lengthAdjust="spacingAndGlyphs">Mar-2011</text>
<text transform="translate(1221.6,1532.9) rotate(-90)" font-size="58" textLength="226.92" lengthAdjust="spacingAndGlyphs">Nov-2011</text>
<text transform="translate(1322.7,1509.9) rotate(-90)" font-size="58" textLength="202.57" lengthAdjust="spacingAndGlyphs">Jul-2012</text>
<text transform="translate(1423.8,1538.7) rotate(-90)" font-size="58" textLength="231.96" lengthAdjust="spacingAndGlyphs">Mar-2013</text>
<text transform="translate(1524.9,1544.9) rotate(-90)" font-size="58" textLength="237.47" lengthAdjust="spacingAndGlyphs">Nov-2013</text>
<text transform="translate(1626.1,1513.4) rotate(-90)" font-size="58" textLength="205.19" lengthAdjust="spacingAndGlyphs">Jul-2014</text>
<text transform="translate(1727.2,1538.7) rotate(-90)" font-size="58" textLength="231.96" lengthAdjust="spacingAndGlyphs">Mar-2015</text>
<text transform="translate(1828.3,1544.9) rotate(-90)" font-size="58" textLength="237.47" lengthAdjust="spacingAndGlyphs">Nov-2015</text>
<text transform="translate(1929.4,1513.4) rotate(-90)" font-size="58" textLength="206.13" lengthAdjust="spacingAndGlyphs">Jul-2016</text>
<text transform="translate(2030.5,1536.0) rotate(-90)" font-size="58" textLength="230.13" lengthAdjust="spacingAndGlyphs">Mar-2017</text>
<text transform="translate(2131.7,1541.1) rotate(-90)" font-size="58" textLength="234.58" lengthAdjust="spacingAndGlyphs">Nov-2017</text>
<text transform="translate(2232.8,1513.4) rotate(-90)" font-size="58" textLength="206.13" lengthAdjust="spacingAndGlyphs">Jul-2018</text>
<text transform="translate(2333.9,1539.7) rotate(-90)" font-size="58" textLength="233.96" lengthAdjust="spacingAndGlyphs">Mar-2019</text>
<text transform="translate(2435.0,1545.5) rotate(-90)" font-size="58" textLength="238.09" lengthAdjust="spacingAndGlyphs">Nov-2019</text>
<text x="426.9" y="82" font-size="72" textLength="114.34" lengthAdjust="spacingAndGlyphs">U.S.</text>
<text x="551.0" y="82" font-size="72" textLength="241.09" lengthAdjust="spacingAndGlyphs">Imports</text>
<text x="805.8" y="82" font-size="72" textLength="146.3" lengthAdjust="spacingAndGlyphs">from</text>
<text x="966.3" y="82" font-size="72" textLength="173.1" lengthAdjust="spacingAndGlyphs">China</text>
<text x="1159.0" y="82" font-size="72" textLength="82.27" lengthAdjust="spacingAndGlyphs">vs.</text>
<text x="1250.7" y="82" font-size="72" textLength="276.39" lengthAdjust="spacingAndGlyphs">Selected</text>
<text x="1543.7" y="82" font-size="72" textLength="167.04" lengthAdjust="spacingAndGlyphs">Asian</text>
<text x="1723.6" y="82" font-size="72" textLength="337.65" lengthAdjust="spacingAndGlyphs">Economies</text>
<text x="842.6" y="170" font-size="72" textLength="141.29" lengthAdjust="spacingAndGlyphs">(Y/Y</text>
<text x="998.9" y="170" font-size="72" textLength="251.44" lengthAdjust="spacingAndGlyphs">Change,</text>
<text x="1259.0" y="170" font-size="72" textLength="136.92" lengthAdjust="spacingAndGlyphs">USD</text>
<text x="1410.0" y="170" font-size="72" textLength="238.17" lengthAdjust="spacingAndGlyphs">Billions)</text>
<rect x="335" y="1604.5" width="40" height="31.5" fill="#faa5a4"/>
<text x="378.6" y="1634.5" font-size="61" textLength="184.86" lengthAdjust="spacingAndGlyphs">Taiwan</text>
<rect x="645" y="1604.5" width="40" height="31.5" fill="#bf9000"/>
<text x="691.7" y="1634.5" font-size="61" textLength="212.82" lengthAdjust="spacingAndGlyphs">Vietnam</text>
<rect x="987" y="1604.5" width="40" height="31.5" fill="#9dc3e6"/>
<text x="1027.0" y="1634.5" font-size="61" textLength="154.54" lengthAdjust="spacingAndGlyphs">Korea</text>
<rect x="1268" y="1604.5" width="40" height="31.5" fill="#258690"/>
<text x="1310.5" y="1634.5" font-size="61" textLength="219.08" lengthAdjust="spacingAndGlyphs">Malaysia</text>
<rect x="1628" y="1604.5" width="40" height="31.5" fill="#9c4710"/>
<text x="1672.0" y="1634.5" font-size="61" textLength="219.39" lengthAdjust="spacingAndGlyphs">Thailand</text>
<line x1="1973.2" y1="1620.3" x2="2013.3" y2="1620.3" stroke="#640e0e" stroke-width="14.6" stroke-linecap="round"/>
<text x="2017.6" y="1634.5" font-size="61" textLength="144.37" lengthAdjust="spacingAndGlyphs">China</text>
<text x="2177.4" y="1634.5" font-size="61" textLength="28.62" lengthAdjust="spacingAndGlyphs">+</text>
<text x="2215.6" y="1634.5" font-size="61" textLength="80.03" lengthAdjust="spacingAndGlyphs">HK</text>
<text x="15.5" y="1770" font-size="46" textLength="153.2" lengthAdjust="spacingAndGlyphs">Source:</text>
<text x="175.7" y="1770" font-size="46" textLength="76.0" lengthAdjust="spacingAndGlyphs">U.S.</text>
<text x="259.0" y="1770" font-size="46" textLength="146.4" lengthAdjust="spacingAndGlyphs">Census</text>
<text x="414.7" y="1770" font-size="46" textLength="276.0" lengthAdjust="spacingAndGlyphs">Bureau/Haver</text>
<text x="702.3" y="1770" font-size="46" textLength="184.0" lengthAdjust="spacingAndGlyphs">Analytics</text>
<text x="2247.0" y="1718.6" font-size="47" textLength="93.56" lengthAdjust="spacingAndGlyphs">Brad</text>
<text x="2348.7" y="1718.6" font-size="47" textLength="125.94" lengthAdjust="spacingAndGlyphs">Setser</text>
<text x="2093.0" y="1775.5" font-size="47" textLength="381.42" lengthAdjust="spacingAndGlyphs">cfr.org/blog/Setser</text>
<rect x="0" y="0" width="2491" height="1" fill="#000"/>
<rect x="0" y="0" width="1" height="1794" fill="#000"/>
</svg></body></html>
